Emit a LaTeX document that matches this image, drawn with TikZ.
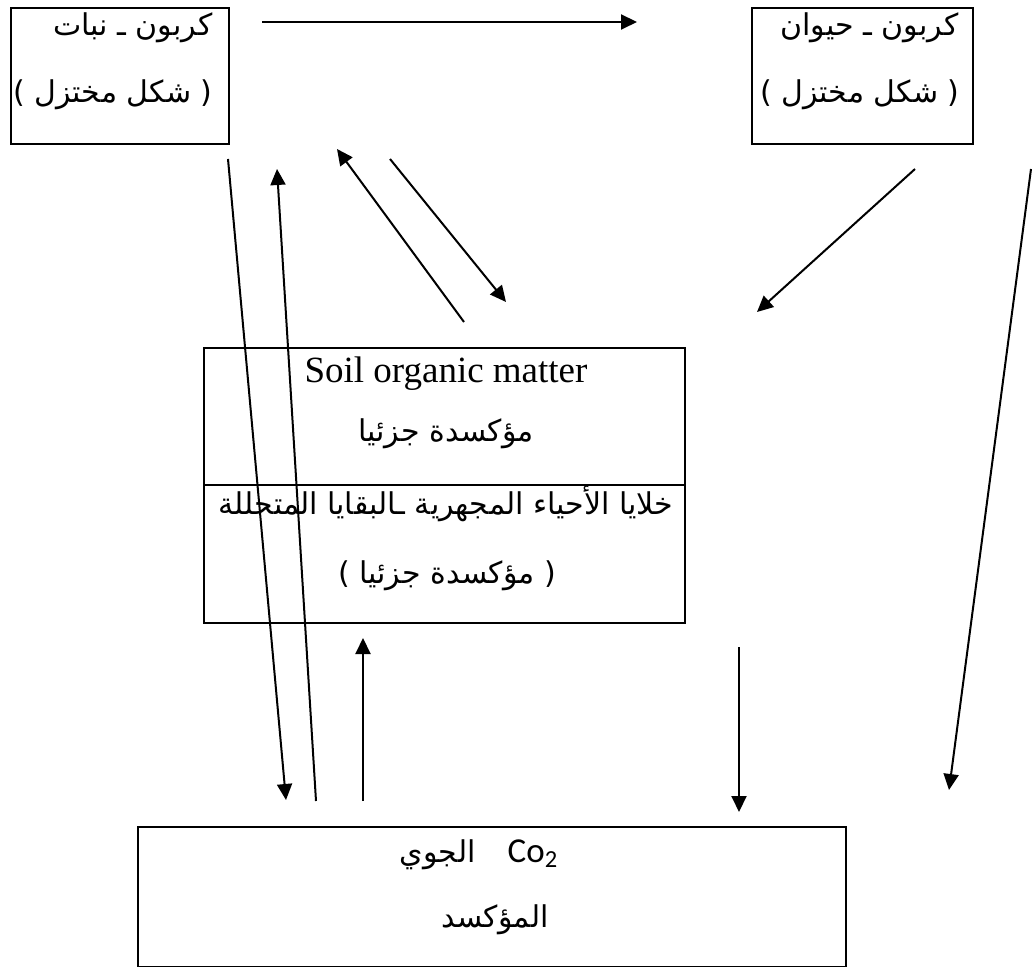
\documentclass[tikz,border=0pt]{standalone}
\usepackage{fontspec}
\usepackage{tikz}
\usetikzlibrary{arrows.meta}
\setmainfont{Liberation Serif}
\newfontfamily\arabicfont[Script=Arabic]{DejaVu Sans}
\newfontfamily\cofont{Carlito}
\TeXXeTstate=1

\begin{document}
\begin{tikzpicture}[x=0.5pt,y=-0.5pt,
  box/.style={draw,line width=1.2pt,inner sep=0pt,anchor=north west},
  ar/.style={font=\arabicfont\fontsize{15}{18}\selectfont,inner sep=0pt},
  flow/.style={line width=1pt,-{Triangle[length=8pt,width=7.5pt]}}]
\useasboundingbox (0,0) rectangle (1032,967);

\node[box,minimum width=109pt,minimum height=68pt] (plant) at (10,7) {};
\node[box,minimum width=110.5pt,minimum height=68pt] (animal) at (751,7) {};
\node[box,minimum width=240.5pt,minimum height=137.5pt] (soil) at (203,347) {};
\node[box,minimum width=354pt,minimum height=70pt] (air) at (137,826) {};
\draw[line width=1.2pt] (soil.west |- 0,485) -- (soil.east |- 0,485);

\node[ar,anchor=base east] (plantA) at (213,36) {\beginR كربون ـ نبات\endR};
\node[ar,anchor=base east] (plantB) at (213,103) {\beginR ( شكل مختزل )\endR};
\node[ar,anchor=base east] (animalA) at (959,36) {\beginR كربون ـ حيوان\endR};
\node[ar,anchor=base east] (animalB) at (960,103) {\beginR ( شكل مختزل )\endR};

\node[inner sep=0pt,anchor=base,font=\fontsize{18.5}{22}\selectfont] (soilA) at (446,383) {Soil organic matter};
\node[ar,anchor=base] (soilB) at (446,442) {\beginR مؤكسدة جزئيا\endR};
\node[ar,anchor=base] (soilC) at (446,514) {\beginR خلايا الأحياء المجهرية ـالبقايا المتحللة\endR};
\node[ar,anchor=base] (soilD) at (447,583) {\beginR ( مؤكسدة جزئيا )\endR};

\node[inner sep=0pt,anchor=base] (airA) at (479,862)
  {{\arabicfont\fontsize{15}{18}\selectfont\beginR الجوي\endR}\hspace{16pt}{\cofont\fontsize{17.5}{20}\selectfont Co\textsubscript{2}}};
\node[ar,anchor=base] (airB) at (495,927) {\beginR المؤكسد\endR};

\coordinate (pa1) at (262,22);   \coordinate (pa2) at (637,22);
\coordinate (pd1) at (228,159);  \coordinate (pd2) at (286,800);
\coordinate (au1) at (316,801);  \coordinate (au2) at (277,169);
\coordinate (sp1) at (464,322);  \coordinate (sp2) at (337,149);
\coordinate (ps1) at (390,159);  \coordinate (ps2) at (506,302);
\coordinate (as1) at (915,169);  \coordinate (as2) at (757,312);
\coordinate (ad1) at (1031,169); \coordinate (ad2) at (949,790);
\coordinate (su1) at (363,801);  \coordinate (su2) at (363,638);
\coordinate (sd1) at (739,647);  \coordinate (sd2) at (739,812);

\foreach \a/\b in {pa1/pa2,pd1/pd2,au1/au2,sp1/sp2,ps1/ps2,as1/as2,ad1/ad2,su1/su2,sd1/sd2}
  \draw[flow] (\a) -- (\b);
\end{tikzpicture}
\end{document}
